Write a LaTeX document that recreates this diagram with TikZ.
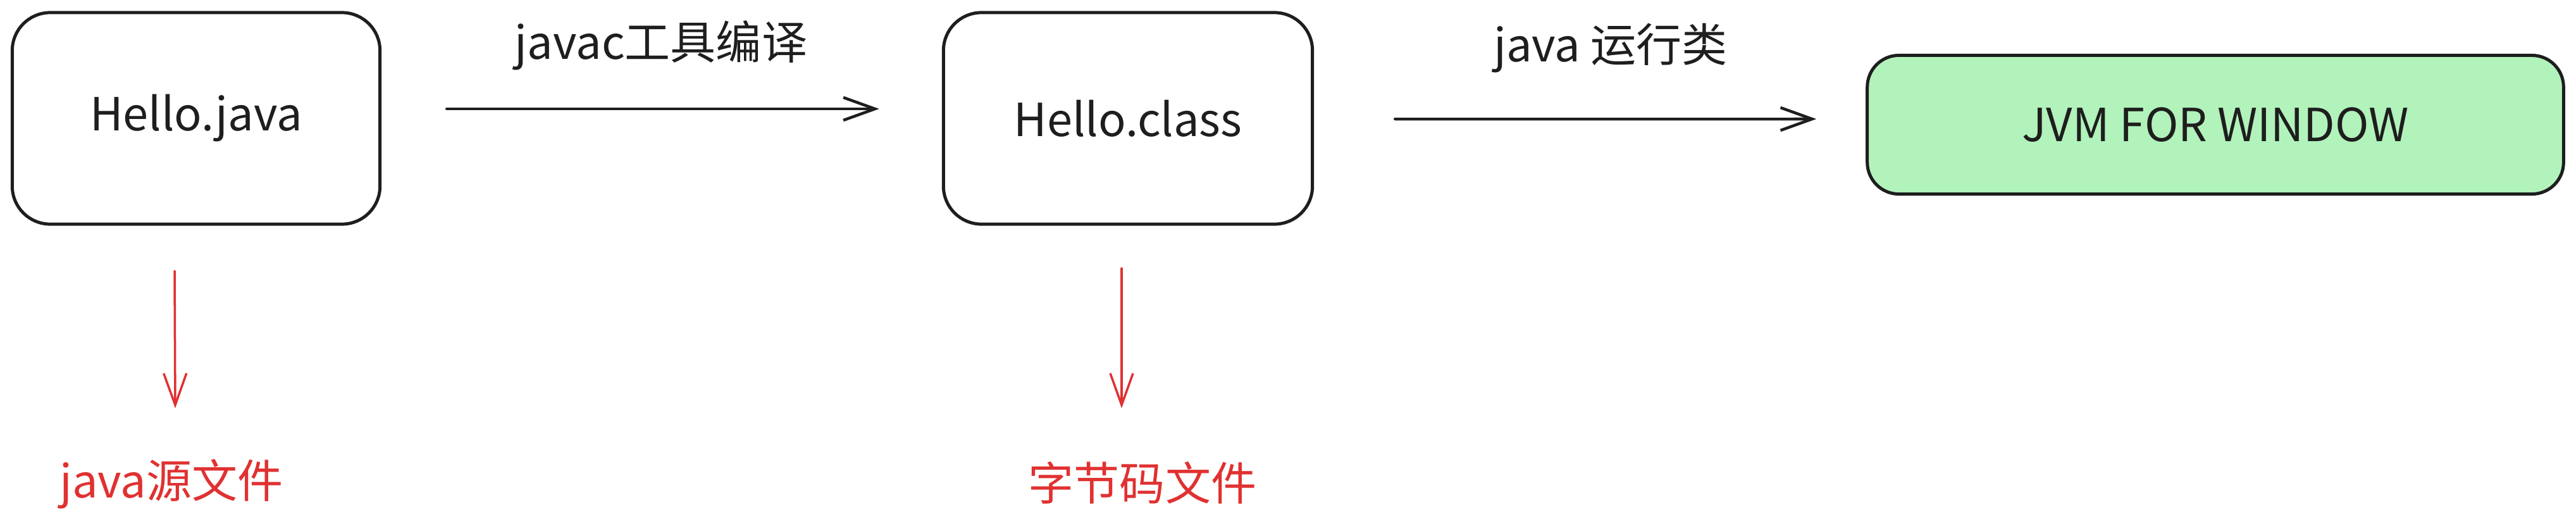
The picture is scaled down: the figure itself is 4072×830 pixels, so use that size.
\documentclass[tikz,border=0pt]{standalone}
\usepackage{fontspec}
\setmainfont{Noto Sans CJK SC}
\usetikzlibrary{arrows.meta}

\definecolor{ink}{HTML}{1E1E1E}
\definecolor{mark}{HTML}{E03131}
\definecolor{mint}{HTML}{B2F2BB}

\tikzstyle{file}=[rectangle,rounded corners=0.6cm,draw=ink,line width=0.05cm,text=ink,font=\fontsize{20.5}{24}\selectfont]
\tikzstyle{vm}=[rectangle,rounded corners=0.5cm,draw=ink,fill=mint,line width=0.05cm,text=ink,font=\fontsize{20.5}{24}\selectfont]
\tikzstyle{say}=[text=ink,inner sep=0pt,font=\fontsize{20.5}{24}\selectfont]
\tikzstyle{note}=[text=mark,inner sep=0pt,font=\fontsize{20.5}{24}\selectfont]
\tikzstyle{flow}=[draw=ink,line width=0.045cm,line cap=round,-{Straight Barb[length=0.5cm,width=0.36cm,line width=0.045cm]}]
\tikzstyle{hint}=[draw=mark,line width=0.035cm,line cap=round,-{Straight Barb[length=0.5cm,width=0.36cm,line width=0.035cm]}]

\begin{document}
\begin{tikzpicture}[x=0.01cm,y=-0.01cm]
	\useasboundingbox (0,0) rectangle (4072,830);

	\node (A) at (310,187) [file, minimum width=5.81cm, minimum height=3.34cm] {Hello.java};
	\node (B) at (1783,187) [file, minimum width=5.83cm, minimum height=3.34cm] {Hello.class};
	\node (C) at (3502,197) [vm, minimum width=11.0cm, minimum height=2.19cm] {JVM FOR WINDOW};

		\node (javac) at (1045,72) [say] {javac工具编译};
		\node (run) at (2546,76) [say] {java 运行类};

		\node (src) at (271,765) [note] {java源文件};
		\node (byte) at (1806,763) [note] {字节码文件};

	\coordinate (a1) at (276,428);
	\coordinate (a2) at (277,645);
	\coordinate (b1) at (1773,424);
	\coordinate (b2) at (1773,645);

	\draw [flow, shorten <=1.03cm, shorten >=0.99cm] ([yshift=0.15cm]A.east) to ([yshift=0.15cm]B.west);
	\draw [flow, shorten <=1.28cm, shorten >=0.78cm] ([yshift=-0.01cm]B.east) to ([yshift=0.09cm]C.west);

	\draw [hint] (a1) to (a2);
	\draw [hint] (b1) to (b2);


\end{tikzpicture}
\end{document}
